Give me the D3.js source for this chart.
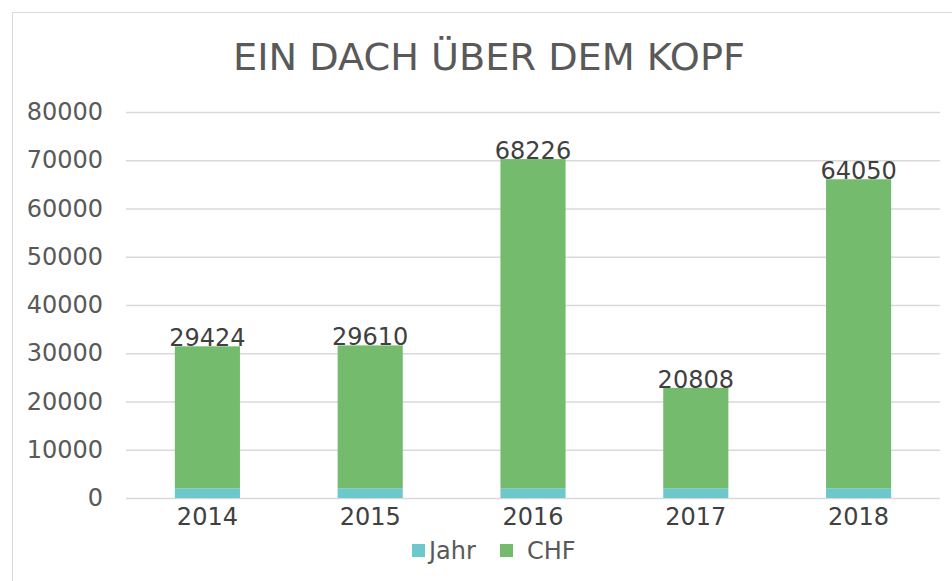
<!DOCTYPE html>
<html>
<head>
<meta charset="utf-8">
<script src="https://cdn.jsdelivr.net/npm/d3@7"></script>
<style>
  body { margin: 0; background: #fff; }
  svg { display: block; }
</style>
</head>
<body>
<svg width="952" height="581"></svg>
<script>
// data
const years = ["2014", "2015", "2016", "2017", "2018"];
const jahr = [2014, 2015, 2016, 2017, 2018];
const chf = [29424, 29610, 68226, 20808, 64050];
const yTicks = [0, 10000, 20000, 30000, 40000, 50000, 60000, 70000, 80000];

const svg = d3.select("svg"),
    width = +svg.attr("width"),
    height = +svg.attr("height");

const teal = "#6cc8ca", green = "#75bb6e", grey = "#595959";
const font = "'DejaVu Sans', Verdana, sans-serif";

// chart frame
svg.append("rect")
    .attr("x", 12.5).attr("y", 12.5)
    .attr("width", 960).attr("height", 600)
    .attr("fill", "#fff")
    .attr("stroke", "#d9d9d9");

const x = d3.scaleBand()
    .domain(years)
    .range([126, 940])
    .paddingInner(0.6)
    .paddingOuter(0.3);

const y = d3.scaleLinear()
    .domain([0, 80000])
    .range([498, 112]);

// title
svg.append("text")
    .attr("x", 489).attr("y", 70)
    .attr("text-anchor", "middle")
    .attr("textLength", 512)
    .attr("lengthAdjust", "spacingAndGlyphs")
    .style("font-family", font)
    .style("font-size", "37px")
    .style("fill", grey)
    .text("EIN DACH ÜBER DEM KOPF");

// gridlines
svg.append("g")
    .attr("transform", "translate(126,0)")
    .call(d3.axisLeft(y).tickValues(yTicks).tickSize(-814).tickFormat(""))
    .call(g => g.select(".domain").remove())
    .call(g => g.selectAll("line").attr("stroke", "#d9d9d9").attr("stroke-width", 1.5));

// y axis labels
svg.append("g")
    .attr("transform", "translate(103,0)")
    .call(d3.axisLeft(y).tickValues(yTicks).tickSize(0).tickPadding(0).tickFormat(d3.format("d")))
    .call(g => g.select(".domain").remove())
    .call(g => g.selectAll("text")
        .style("font-family", font)
        .style("font-size", "24px")
        .style("fill", grey));

// stacked bars
const rows = years.map((k, i) => ({ year: k, Jahr: jahr[i], CHF: chf[i] }));
const stack = d3.stack().keys(["Jahr", "CHF"])(rows);
const colors = { Jahr: teal, CHF: green };

svg.append("g")
    .selectAll("g")
    .data(stack)
    .join("g")
      .attr("fill", d => colors[d.key])
    .selectAll("rect")
    .data(d => d)
    .join("rect")
      .attr("x", d => x(d.data.year))
      .attr("width", x.bandwidth())
      .attr("y", d => y(d[1]))
      .attr("height", d => y(d[0]) - y(d[1]));

// data labels
svg.append("g")
    .selectAll("text")
    .data(stack[1])
    .join("text")
      .attr("x", d => x(d.data.year) + x.bandwidth() / 2)
      .attr("y", d => y(d[1]))
      .attr("text-anchor", "middle")
      .style("font-family", font)
      .style("font-size", "24px")
      .style("fill", "#404040")
      .text(d => d.data.CHF);

// x axis labels
svg.append("g")
    .selectAll("text")
    .data(years)
    .join("text")
      .attr("x", d => x(d) + x.bandwidth() / 2)
      .attr("y", 525)
      .attr("text-anchor", "middle")
      .style("font-family", font)
      .style("font-size", "24px")
      .style("fill", "#404040")
      .text(d => d);

// legend
const legend = svg.append("g").attr("transform", "translate(412,551)");
const items = [{ name: "Jahr", color: teal, dx: 0 }, { name: "CHF", color: green, dx: 88 }];
const li = legend.selectAll("g").data(items).join("g")
    .attr("transform", d => `translate(${d.dx},0)`);
li.append("rect")
    .attr("x", 0).attr("y", -7)
    .attr("width", 13).attr("height", 13)
    .attr("fill", d => d.color);
li.append("text")
    .attr("x", d => d.name === "Jahr" ? 17 : 27).attr("y", 8)
    .style("font-family", font)
    .style("font-size", "24px")
    .style("fill", grey)
    .text(d => d.name);
</script>
</body>
</html>
